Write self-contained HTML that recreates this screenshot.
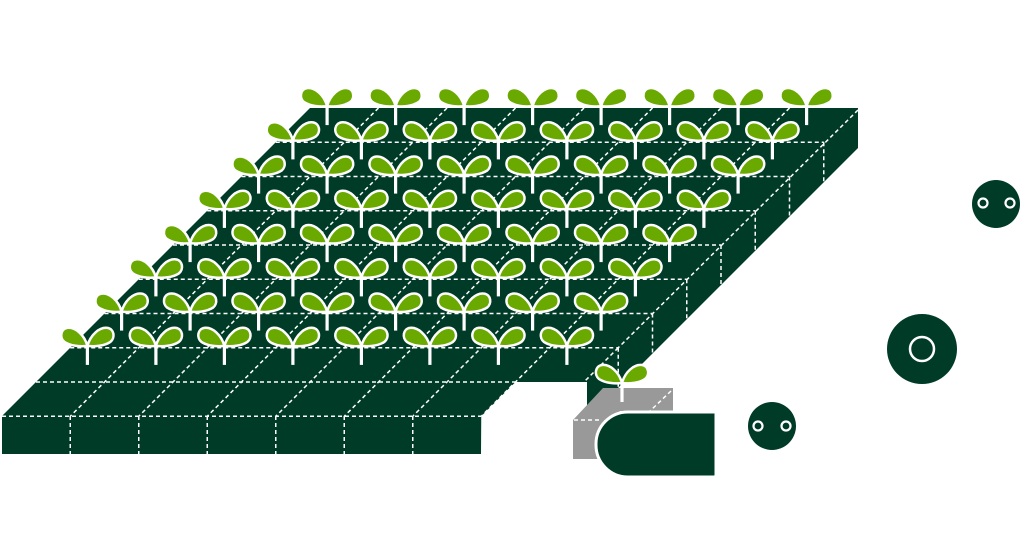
<!DOCTYPE html>
<html><head><meta charset="utf-8"><style>html,body{margin:0;padding:0;background:#fff}svg{display:block}</style></head>
<body>
<svg width="1025" height="541" viewBox="0 0 1025 541" xmlns="http://www.w3.org/2000/svg">
<defs>
<g id="p">
<line x1="0" y1="0" x2="0" y2="-22" stroke="#fff" stroke-width="3.2"/>
<path d="M0,-19 C-3,-30 -12,-38 -20,-37 C-27,-36 -28,-27 -23,-23 C-17,-19 -7,-18 0,-19Z" fill="#6aa900" stroke="#fff" stroke-width="2.5"/>
<path d="M0,-19 C3,-30 12,-38 20,-37 C27,-36 28,-27 23,-23 C17,-19 7,-18 0,-19Z" fill="#6aa900" stroke="#fff" stroke-width="2.5"/>
</g>
</defs>
<polygon points="310,108 858,108 858,148 606,400 596,410 587,410 587,382 515.5,382 481.25,416.25 481,454 2,454 2,416" fill="#003b28"/>
<g stroke="#fff" stroke-width="1.5" stroke-dasharray="4,3" fill="none">
<line x1="275.75" y1="142.25" x2="823.75" y2="142.25"/>
<line x1="241.5" y1="176.5" x2="789.5" y2="176.5"/>
<line x1="207.25" y1="210.75" x2="755.25" y2="210.75"/>
<line x1="173" y1="245" x2="721" y2="245"/>
<line x1="138.75" y1="279.25" x2="686.75" y2="279.25"/>
<line x1="104.5" y1="313.5" x2="652.5" y2="313.5"/>
<line x1="70.25" y1="347.75" x2="618.25" y2="347.75"/>
<line x1="36" y1="382" x2="515.5" y2="382"/>
<line x1="2" y1="416.25" x2="481.25" y2="416.25"/>
<line x1="378.5" y1="108" x2="70.25" y2="416.25"/>
<line x1="447" y1="108" x2="138.75" y2="416.25"/>
<line x1="515.5" y1="108" x2="207.25" y2="416.25"/>
<line x1="584" y1="108" x2="275.75" y2="416.25"/>
<line x1="652.5" y1="108" x2="344.25" y2="416.25"/>
<line x1="721" y1="108" x2="412.75" y2="416.25"/>
<line x1="789.5" y1="108" x2="481.25" y2="416.25"/>
<line x1="858" y1="110" x2="618.25" y2="347.75"/>
<line x1="823.75" y1="142.25" x2="823.75" y2="182"/>
<line x1="789.5" y1="176.5" x2="789.5" y2="216.5"/>
<line x1="755.25" y1="210.75" x2="755.25" y2="250.75"/>
<line x1="721" y1="245" x2="721" y2="285"/>
<line x1="686.75" y1="279.25" x2="686.75" y2="319.25"/>
<line x1="652.5" y1="313.5" x2="652.5" y2="353.5"/>
<line x1="618.25" y1="347.75" x2="618.25" y2="388"/>
<line x1="618.25" y1="347.75" x2="584" y2="382"/>
<line x1="70.25" y1="416" x2="70.25" y2="454"/>
<line x1="138.75" y1="416" x2="138.75" y2="454"/>
<line x1="207.25" y1="416" x2="207.25" y2="454"/>
<line x1="275.75" y1="416" x2="275.75" y2="454"/>
<line x1="344.25" y1="416" x2="344.25" y2="454"/>
<line x1="412.75" y1="416" x2="412.75" y2="454"/>
</g>
<g>
<use href="#p" x="327.1" y="125.1"/><use href="#p" x="395.6" y="125.1"/><use href="#p" x="464.1" y="125.1"/><use href="#p" x="532.6" y="125.1"/><use href="#p" x="601.1" y="125.1"/><use href="#p" x="669.6" y="125.1"/><use href="#p" x="738.1" y="125.1"/><use href="#p" x="806.6" y="125.1"/>
<use href="#p" x="292.9" y="159.4"/><use href="#p" x="361.4" y="159.4"/><use href="#p" x="429.9" y="159.4"/><use href="#p" x="498.4" y="159.4"/><use href="#p" x="566.9" y="159.4"/><use href="#p" x="635.4" y="159.4"/><use href="#p" x="703.9" y="159.4"/><use href="#p" x="772.4" y="159.4"/>
<use href="#p" x="258.6" y="193.6"/><use href="#p" x="327.1" y="193.6"/><use href="#p" x="395.6" y="193.6"/><use href="#p" x="464.1" y="193.6"/><use href="#p" x="532.6" y="193.6"/><use href="#p" x="601.1" y="193.6"/><use href="#p" x="669.6" y="193.6"/><use href="#p" x="738.1" y="193.6"/>
<use href="#p" x="224.4" y="227.9"/><use href="#p" x="292.9" y="227.9"/><use href="#p" x="361.4" y="227.9"/><use href="#p" x="429.9" y="227.9"/><use href="#p" x="498.4" y="227.9"/><use href="#p" x="566.9" y="227.9"/><use href="#p" x="635.4" y="227.9"/><use href="#p" x="703.9" y="227.9"/>
<use href="#p" x="190.1" y="262.1"/><use href="#p" x="258.6" y="262.1"/><use href="#p" x="327.1" y="262.1"/><use href="#p" x="395.6" y="262.1"/><use href="#p" x="464.1" y="262.1"/><use href="#p" x="532.6" y="262.1"/><use href="#p" x="601.1" y="262.1"/><use href="#p" x="669.6" y="262.1"/>
<use href="#p" x="155.9" y="296.4"/><use href="#p" x="224.4" y="296.4"/><use href="#p" x="292.9" y="296.4"/><use href="#p" x="361.4" y="296.4"/><use href="#p" x="429.9" y="296.4"/><use href="#p" x="498.4" y="296.4"/><use href="#p" x="566.9" y="296.4"/><use href="#p" x="635.4" y="296.4"/>
<use href="#p" x="121.6" y="330.6"/><use href="#p" x="190.1" y="330.6"/><use href="#p" x="258.6" y="330.6"/><use href="#p" x="327.1" y="330.6"/><use href="#p" x="395.6" y="330.6"/><use href="#p" x="464.1" y="330.6"/><use href="#p" x="532.6" y="330.6"/><use href="#p" x="601.1" y="330.6"/>
<use href="#p" x="87.4" y="364.9"/><use href="#p" x="155.9" y="364.9"/><use href="#p" x="224.4" y="364.9"/><use href="#p" x="292.9" y="364.9"/><use href="#p" x="361.4" y="364.9"/><use href="#p" x="429.9" y="364.9"/><use href="#p" x="498.4" y="364.9"/><use href="#p" x="566.9" y="364.9"/>
</g>
<polygon points="603,388 673,388 673,411 620,411 600,430 600,459 573,459 573,420" fill="#999"/>
<g stroke="#fff" stroke-width="1.5" stroke-dasharray="4,3"><line x1="671" y1="391" x2="650" y2="411"/><line x1="574" y1="420" x2="600" y2="420"/></g>
<use href="#p" x="622" y="402"/>
<path d="M628,412 H716 V475 Q716,477 714,477 H628 A32,32 0 0 1 596,445 V444 A32,32 0 0 1 628,412 Z" fill="#003b28" stroke="#fff" stroke-width="3"/>
<circle cx="772" cy="426" r="24" fill="#003b28"/>
<circle cx="758" cy="426" r="4.5" fill="none" stroke="#fff" stroke-width="2.2"/>
<circle cx="786" cy="426" r="4.5" fill="none" stroke="#fff" stroke-width="2.2"/>
<circle cx="922" cy="349" r="35" fill="#003b28"/>
<circle cx="922" cy="349" r="12" fill="none" stroke="#fff" stroke-width="2.5"/>
<circle cx="996" cy="204" r="24" fill="#003b28"/>
<circle cx="983" cy="203" r="4.5" fill="none" stroke="#fff" stroke-width="2.2"/>
<circle cx="1010" cy="203" r="4.5" fill="none" stroke="#fff" stroke-width="2.2"/>
</svg>
</body></html>
